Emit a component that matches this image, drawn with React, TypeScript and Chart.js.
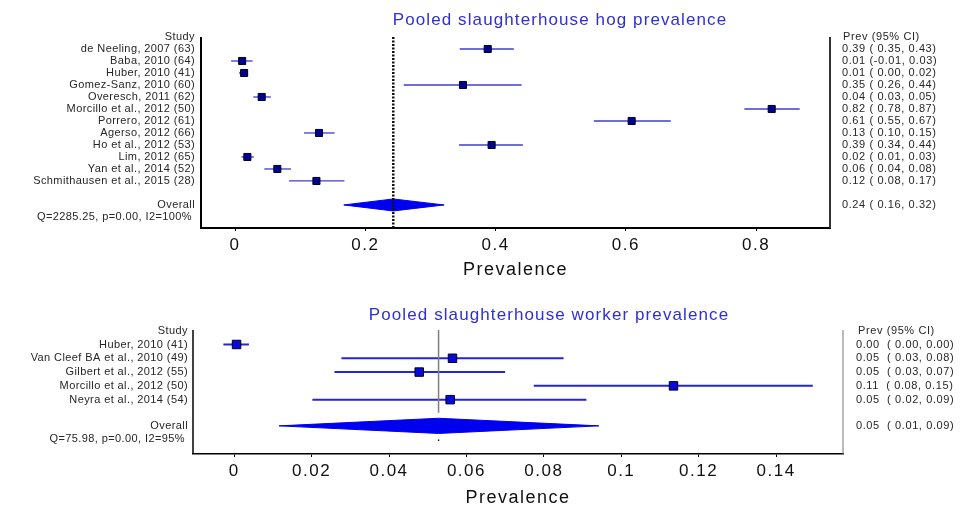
import React, { useEffect, useRef } from "react";
import { Chart, registerables } from "chart.js";

Chart.register(...registerables);

// ---------------- Data: hog prevalence ----------------
const hogTitle = "Pooled slaughterhouse hog prevalence";
const hogStudies = [
  "de Neeling, 2007 (63)",
  "Baba, 2010 (64)",
  "Huber, 2010 (41)",
  "Gomez-Sanz, 2010 (60)",
  "Overesch, 2011 (62)",
  "Morcillo et al., 2012 (50)",
  "Porrero, 2012 (61)",
  "Agerso, 2012 (66)",
  "Ho et al., 2012 (53)",
  "Lim, 2012 (65)",
  "Yan et al., 2014 (52)",
  "Schmithausen et al., 2015 (28)",
];
const hogPrev = [0.388, 0.011, 0.014, 0.35, 0.041, 0.824, 0.609, 0.129, 0.394, 0.019, 0.065, 0.125];
const hogLow = [0.345, -0.006, 0.006, 0.259, 0.028, 0.782, 0.551, 0.106, 0.344, 0.01, 0.045, 0.083];
const hogHigh = [0.428, 0.027, 0.02, 0.44, 0.055, 0.867, 0.669, 0.153, 0.442, 0.029, 0.086, 0.168];
const hogCiText = [
  "0.39 ( 0.35, 0.43)",
  "0.01 (-0.01, 0.03)",
  "0.01 ( 0.00, 0.02)",
  "0.35 ( 0.26, 0.44)",
  "0.04 ( 0.03, 0.05)",
  "0.82 ( 0.78, 0.87)",
  "0.61 ( 0.55, 0.67)",
  "0.13 ( 0.10, 0.15)",
  "0.39 ( 0.34, 0.44)",
  "0.02 ( 0.01, 0.03)",
  "0.06 ( 0.04, 0.08)",
  "0.12 ( 0.08, 0.17)",
];
const hogOverall = [0.243, 0.167, 0.321]; // estimate, low, high
const hogOverallText = "0.24 ( 0.16, 0.32)";
const hogHetero = "Q=2285.25, p=0.00, I2=100%";
const hogTicks = [0, 0.2, 0.4, 0.6, 0.8];
const hogTickLabels = ["0", "0.2", "0.4", "0.6", "0.8"];

// ---------------- Data: worker prevalence ----------------
const workerTitle = "Pooled slaughterhouse worker prevalence";
const workerStudies = [
  "Huber, 2010 (41)",
  "Van Cleef BA et al., 2010 (49)",
  "Gilbert et al., 2012 (55)",
  "Morcillo et al., 2012 (50)",
  "Neyra et al., 2014 (54)",
];
const workerPrev = [0.0006, 0.0564, 0.0478, 0.1135, 0.0558];
const workerLow = [-0.0028, 0.0277, 0.0259, 0.0774, 0.0202];
const workerHigh = [0.0038, 0.0851, 0.07, 0.1495, 0.091];
const workerCiText = [
  "0.00  ( 0.00, 0.00)",
  "0.05  ( 0.03, 0.08)",
  "0.05  ( 0.03, 0.07)",
  "0.11  ( 0.08, 0.15)",
  "0.05  ( 0.02, 0.09)",
];
const workerOverall = [0.0528, 0.0116, 0.0942];
const workerOverallText = "0.05  ( 0.01, 0.09)";
const workerHetero = "Q=75.98, p=0.00, I2=95%";
const workerTicks = [0, 0.02, 0.04, 0.06, 0.08, 0.1, 0.12, 0.14];
const workerTickLabels = ["0", "0.02", "0.04", "0.06", "0.08", "0.1", "0.12", "0.14"];

const FONT = '"Liberation Sans", Arial, sans-serif';

type Cfg = {
  title: string;
  titleX: number;
  titleY: number;
  studies: string[];
  prev: number[];
  low: number[];
  high: number[];
  ciText: string[];
  overall: number[];
  overallText: string;
  hetero: string;
  ticks: number[];
  tickLabels: string[];
  xMin: number;
  xMax: number;
  yMin: number;
  yMax: number;
  overallGap: number;
  heteroGap: number;
  width: number;
  height: number;
  padding: { left: number; right: number; top: number; bottom: number };
  tickPad: number;
  titlePadTop: number;
  lineColor: string;
  lineWidth: number;
  squareColor: string;
  squareRadius: number;
  diamondHalf: number;
  refDotted: boolean;
  refColor: string;
  refWidth: number;
  refEnd: number | null;
  refDot: number | null;
  axisWidth: number;
  leftWidth: number;
  rightColor: string;
  rightWidth: number;
  labelGap: number;
  textGap: number;
  headerGap: number;
};

function ForestPlot({ cfg, top }: { cfg: Cfg; top: number }) {
  const ref = useRef<HTMLCanvasElement | null>(null);

  useEffect(() => {
    const canvas = ref.current;
    if (!canvas) return;
    const n = cfg.studies.length;
    const overallRow = n - 1 + cfg.overallGap;
    const heteroRow = n - 1 + cfg.heteroGap;

    const datasets: any[] = [];
    // confidence interval lines
    cfg.prev.forEach((_, i) => {
      datasets.push({
        data: [
          { x: cfg.low[i], y: i },
          { x: cfg.high[i], y: i },
        ],
        showLine: true,
        borderColor: cfg.lineColor,
        borderWidth: cfg.lineWidth,
        pointRadius: 0,
        order: 3,
      });
    });
    // reference line at pooled estimate
    datasets.push({
      data: [
        { x: cfg.overall[0], y: cfg.yMin },
        { x: cfg.overall[0], y: cfg.refEnd === null ? cfg.yMax : cfg.refEnd },
      ],
      showLine: true,
      borderColor: cfg.refColor,
      borderWidth: cfg.refWidth,
      borderDash: cfg.refDotted ? [2, 1.5] : [],
      pointRadius: 0,
      order: 1,
      clip: false,
    });
    if (cfg.refDot !== null) {
      datasets.push({
        data: [{ x: cfg.overall[0], y: cfg.refDot }],
        pointRadius: 1,
        pointStyle: "rect",
        backgroundColor: "#000",
        borderColor: "#000",
        borderWidth: 0,
        order: 1,
      });
    }
    // pooled diamond
    const [est, lo, hi] = cfg.overall;
    datasets.push({
      data: [
        { x: lo, y: overallRow },
        { x: est, y: overallRow - cfg.diamondHalf },
        { x: hi, y: overallRow },
        { x: est, y: overallRow + cfg.diamondHalf },
        { x: lo, y: overallRow },
      ],
      showLine: true,
      fill: "shape",
      backgroundColor: "#0000f0",
      borderColor: "#0000f0",
      borderWidth: 1,
      pointRadius: 0,
      order: 2,
    });
    // study squares
    datasets.push({
      data: cfg.prev.map((p, i) => ({ x: p, y: i })),
      pointStyle: "rect",
      pointRadius: cfg.squareRadius,
      backgroundColor: cfg.squareColor,
      borderColor: "#000020",
      borderWidth: 1,
      order: 0,
    });

    const textPlugin = {
      id: "forestText",
      beforeDraw(chart: any) {
        chart.ctx.letterSpacing = "1.5px";
      },
      beforeDatasetsDraw(chart: any) {
        chart.ctx.letterSpacing = "0px";
      },
      afterDraw(chart: any) {
        const ctx = chart.ctx;
        const area = chart.chartArea;
        const ys = chart.scales.y;
        ctx.save();
        // left / right frame lines
        ctx.strokeStyle = "#000";
        ctx.lineWidth = cfg.leftWidth;
        ctx.beginPath();
        ctx.moveTo(area.left, area.top);
        ctx.lineTo(area.left, area.bottom);
        ctx.stroke();
        ctx.strokeStyle = cfg.rightColor;
        ctx.lineWidth = cfg.rightWidth;
        ctx.beginPath();
        ctx.moveTo(area.right, area.top);
        ctx.lineTo(area.right, area.bottom);
        ctx.stroke();

        // title
        ctx.font = `17px ${FONT}`;
        ctx.letterSpacing = "1.1px";
        ctx.fillStyle = "#2f2fd8";
        ctx.textAlign = "center";
        ctx.textBaseline = "middle";
        ctx.fillText(cfg.title, cfg.titleX, cfg.titleY);

        // study labels
        ctx.font = `11px ${FONT}`;
        ctx.letterSpacing = "0.4px";
        ctx.fillStyle = "#262626";
        ctx.textAlign = "right";
        const lx = area.left - cfg.labelGap;
        ctx.fillText("Study", lx, ys.getPixelForValue(-1));
        cfg.studies.forEach((s, i) => ctx.fillText(s, lx, ys.getPixelForValue(i)));
        ctx.fillText("Overall", lx, ys.getPixelForValue(overallRow));
        ctx.fillText(cfg.hetero, lx - 3, ys.getPixelForValue(heteroRow));

        // right column
        ctx.letterSpacing = "0.6px";
        ctx.textAlign = "left";
        const rx = area.right + cfg.textGap;
        ctx.fillText("Prev (95% CI)", area.right + cfg.headerGap, ys.getPixelForValue(-1));
        cfg.ciText.forEach((s, i) => ctx.fillText(s, rx, ys.getPixelForValue(i)));
        ctx.fillText(cfg.overallText, rx, ys.getPixelForValue(overallRow));
        ctx.restore();
      },
    };

    const chart = new Chart(canvas, {
      type: "scatter",
      data: { datasets },
      options: {
        animation: false,
        responsive: false,
        maintainAspectRatio: false,
        layout: { padding: cfg.padding },
        elements: { line: { tension: 0 } },
        plugins: {
          legend: { display: false },
          tooltip: { enabled: false },
          title: { display: false },
        },
        scales: {
          x: {
            type: "linear",
            min: cfg.xMin,
            max: cfg.xMax,
            afterBuildTicks: (scale: any) => {
              scale.ticks = cfg.ticks.map((v) => ({ value: v }));
            },
            ticks: {
              color: "#111",
              font: { size: 17, family: FONT },
              padding: cfg.tickPad,
              maxRotation: 0,
              autoSkip: false,
              callback: (v: any) => {
                const idx = cfg.ticks.findIndex((t) => Math.abs(t - Number(v)) < 1e-9);
                return idx >= 0 ? cfg.tickLabels[idx] : "";
              },
            },
            grid: {
              display: true,
              drawOnChartArea: false,
              drawTicks: true,
              tickLength: 3,
              color: "#000",
            },
            border: { display: true, color: "#000", width: cfg.axisWidth },
            title: {
              display: true,
              text: "Prevalence",
              color: "#111",
              font: { size: 18, family: FONT },
              padding: { top: cfg.titlePadTop, bottom: 2 },
            },
          },
          y: {
            type: "linear",
            display: false,
            reverse: true,
            min: cfg.yMin,
            max: cfg.yMax,
          },
        },
      },
      plugins: [textPlugin],
    } as any);
    return () => chart.destroy();
  }, [cfg]);

  return (
    <canvas
      ref={ref}
      width={cfg.width}
      height={cfg.height}
      style={{ position: "absolute", left: 0, top, width: cfg.width, height: cfg.height }}
    />
  );
}

const hogCfg: Cfg = {
  title: hogTitle,
  titleX: 560,
  titleY: 20,
  studies: hogStudies,
  prev: hogPrev,
  low: hogLow,
  high: hogHigh,
  ciText: hogCiText,
  overall: hogOverall,
  overallText: hogOverallText,
  hetero: hogHetero,
  ticks: hogTicks,
  tickLabels: hogTickLabels,
  xMin: -0.0522,
  xMax: 0.9135,
  yMin: -1,
  yMax: 14.92,
  overallGap: 2,
  heteroGap: 3,
  width: 977,
  height: 290,
  padding: { left: 201, right: 147, top: 37, bottom: 7 },
  tickPad: 4,
  titlePadTop: 0,
  lineColor: "#3c3cd4",
  lineWidth: 1.3,
  squareColor: "#00008c",
  squareRadius: 5,
  diamondHalf: 0.5,
  refDotted: true,
  refColor: "#111",
  refWidth: 2.5,
  refEnd: null,
  refDot: null,
  axisWidth: 2,
  leftWidth: 2,
  rightColor: "#333",
  rightWidth: 2,
  labelGap: 6,
  textGap: 12,
  headerGap: 13,
};

const workerCfg: Cfg = {
  title: workerTitle,
  titleX: 549,
  titleY: 25,
  studies: workerStudies,
  prev: workerPrev,
  low: workerLow,
  high: workerHigh,
  ciText: workerCiText,
  overall: workerOverall,
  overallText: workerOverallText,
  hetero: workerHetero,
  ticks: workerTicks,
  tickLabels: workerTickLabels,
  xMin: -0.01065,
  xMax: 0.1573,
  yMin: -1.05,
  yMax: 7.94,
  overallGap: 1.9,
  heteroGap: 2.85,
  width: 977,
  height: 223,
  padding: { left: 193, right: 134, top: 40, bottom: 2 },
  tickPad: 4,
  titlePadTop: 2,
  lineColor: "#2424d8",
  lineWidth: 2,
  squareColor: "#0a0ad8",
  squareRadius: 6,
  diamondHalf: 0.55,
  refDotted: false,
  refColor: "#808080",
  refWidth: 1.5,
  refEnd: 4.95,
  refDot: 6.94,
  axisWidth: 1.5,
  leftWidth: 1.5,
  rightColor: "#777",
  rightWidth: 1,
  labelGap: 5,
  textGap: 13,
  headerGap: 15,
};

export default function App() {
  return (
    <div
      style={{
        position: "absolute",
        left: 0,
        top: 0,
        width: 977,
        height: 513,
        background: "#ffffff",
        overflow: "hidden",
      }}
    >
      <ForestPlot cfg={hogCfg} top={0} />
      <ForestPlot cfg={workerCfg} top={290} />
    </div>
  );
}
